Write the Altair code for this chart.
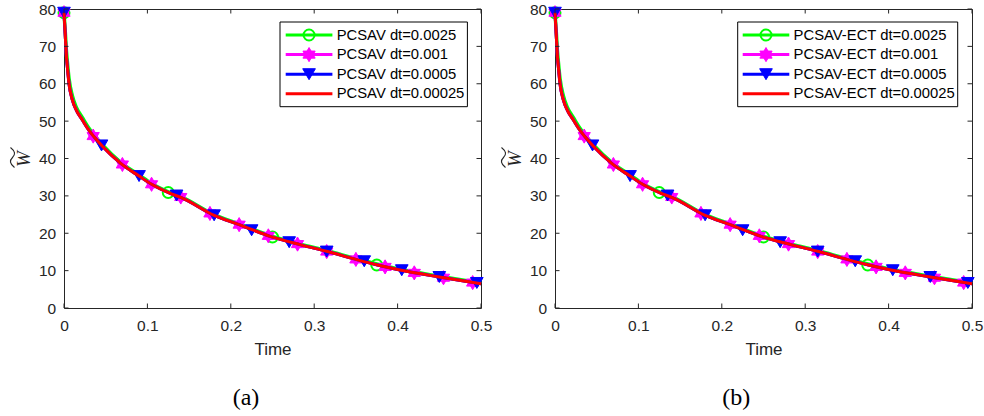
import altair as alt
import pandas as pd

# ---------------- data ----------------
t_curve = [0, 0.0015, 0.003, 0.004, 0.006, 0.010, 0.015, 0.022, 0.030, 0.036, 0.046,
           0.068, 0.09, 0.105, 0.128, 0.14, 0.18, 0.21, 0.248, 0.284, 0.316, 0.35,
           0.376, 0.4, 0.45, 0.5]
w_curve = [79, 73, 67, 64.6, 60, 55.7, 52.8, 50.3, 47.5, 45.8, 43.3,
           38.7, 35.3, 33.1, 30.6, 29.6, 24.8, 22.3, 19.1, 16.9, 15.1, 13.0,
           11.5, 10.3, 8.3, 6.5]
w_green = [79, 74, 68.5, 66, 61.5, 56.8, 53.6, 51.0, 48.1, 46.3, 43.7,
           39.0, 35.6, 33.3, 30.8, 29.8, 25.0, 22.5, 19.3, 17.1, 15.3, 13.2,
           11.7, 10.5, 8.5, 6.7]

t_circle = [0, 0.125, 0.25, 0.375]
w_circle = [79, 30.9, 19.0, 11.5]

t_star = [0, 0.035, 0.07, 0.105, 0.14, 0.175, 0.21, 0.245, 0.28, 0.315, 0.35,
          0.385, 0.42, 0.455, 0.49]
w_star = [79, 46.0, 38.4, 33.1, 29.7, 25.3, 22.3, 19.3, 17.1, 15.1, 13.0,
          11.0, 9.4, 8.1, 6.8]

t_tri = [0, 0.045, 0.09, 0.135, 0.18, 0.225, 0.27, 0.315, 0.36, 0.405, 0.45, 0.495]
w_tri = [79, 43.5, 35.3, 30.1, 24.8, 20.8, 17.6, 15.1, 12.5, 10.1, 8.3, 6.7]

x_ticks = [0, 0.1, 0.2, 0.3, 0.4, 0.5]
y_ticks = [0, 10, 20, 30, 40, 50, 60, 70, 80]

labels_a = ["PCSAV dt=0.0025", "PCSAV dt=0.001", "PCSAV dt=0.0005", "PCSAV dt=0.00025"]
labels_b = ["PCSAV-ECT dt=0.0025", "PCSAV-ECT dt=0.001", "PCSAV-ECT dt=0.0005",
            "PCSAV-ECT dt=0.00025"]
captions = ["(a)", "(b)"]

# ---------------- styling ----------------
W, H = 417, 299
GREEN, MAGENTA, BLUE, RED = "#00FF00", "#FF00FF", "#0000FF", "#FF0000"
AX = "#262626"
SANS = "Liberation Sans"
SERIF = "Liberation Serif"
HEXAGRAM = "M0,-1L0.866,0.5L-0.866,0.5Z M0,1L-0.866,-0.5L0.866,-0.5Z"
TILDE = "M-1,0.2C-0.6,-0.3 -0.3,-0.3 0,0C0.3,0.3 0.6,0.3 1,-0.2"

X = alt.X("t:Q", scale=alt.Scale(domain=[0, 0.5], nice=False, zero=False),
          axis=alt.Axis(values=x_ticks, format="~g", grid=False, domain=False,
                        ticks=False, tickSize=0, labelPadding=10.5, labelFlush=False,
                        labelFont=SANS, labelFontSize=15.5, labelColor=AX,
                        title="Time", titleFont=SANS, titleFontSize=17,
                        titleFontWeight="normal", titleColor=AX,
                        titleY=46.7, titleBaseline="alphabetic"))
Y = alt.Y("w:Q", scale=alt.Scale(domain=[0, 80], nice=False, zero=False),
          axis=alt.Axis(values=y_ticks, grid=False, domain=False, ticks=False,
                        tickSize=0, labelPadding=8.3, labelFlush=False, labelFont=SANS,
                        labelFontSize=15.5, labelColor=AX,
                        title="W", titleFont=SERIF, titleFontSize=19,
                        titleFontStyle="italic", titleFontWeight="normal",
                        titleColor=AX, titleX=-35, titleY=H / 2,
                        titleBaseline="alphabetic"))


def df(t, w):
    return pd.DataFrame({"t": t, "w": w})


one = pd.DataFrame({"a": [0]})


def panel(labels, caption, box_x, line_x, caption_x, anchor=False):
    layers = []
    # series (drawn in the MATLAB order; red on top)
    layers.append(alt.Chart(df(t_curve, w_green)).mark_line(
        color=GREEN, strokeWidth=3.5, interpolate="monotone").encode(x=X, y=Y))
    layers.append(alt.Chart(df(t_circle, w_circle)).mark_point(
        shape="circle", filled=False, color=GREEN, strokeWidth=2, size=121,
        opacity=1).encode(x=X, y=Y))
    layers.append(alt.Chart(df(t_curve, w_curve)).mark_line(
        color=MAGENTA, strokeWidth=3, interpolate="monotone").encode(x=X, y=Y))
    layers.append(alt.Chart(df(t_star, w_star)).mark_point(
        shape=HEXAGRAM, filled=True, color=MAGENTA, stroke=MAGENTA, strokeWidth=1,
        size=200, opacity=1).encode(x=X, y=Y))
    layers.append(alt.Chart(df(t_curve, w_curve)).mark_line(
        color=BLUE, strokeWidth=3, interpolate="monotone").encode(x=X, y=Y))
    layers.append(alt.Chart(df(t_tri, w_tri)).mark_point(
        shape="triangle-down", filled=True, color=BLUE, stroke=BLUE, strokeWidth=1,
        size=160, opacity=1).encode(x=X, y=Y))
    layers.append(alt.Chart(df(t_curve, w_curve)).mark_line(
        color=RED, strokeWidth=3, interpolate="monotone").encode(x=X, y=Y))

    # inward ticks (box on all four sides)
    xt = pd.DataFrame({"t": x_ticks})
    yt = pd.DataFrame({"w": y_ticks})
    layers.append(alt.Chart(xt).mark_rule(color=AX, strokeWidth=1).encode(
        x=X, y=alt.value(H), y2=alt.value(H - 4.5)))
    layers.append(alt.Chart(xt).mark_rule(color=AX, strokeWidth=1).encode(
        x=X, y=alt.value(0), y2=alt.value(4.5)))
    layers.append(alt.Chart(yt).mark_rule(color=AX, strokeWidth=1).encode(
        y=Y, x=alt.value(0), x2=alt.value(4.5)))
    layers.append(alt.Chart(yt).mark_rule(color=AX, strokeWidth=1).encode(
        y=Y, x=alt.value(W - 4.5), x2=alt.value(W)))

    # wide tilde over the (rotated) W of the y title
    layers.append(alt.Chart(one).mark_point(
        shape=TILDE, filled=False, color=AX, strokeWidth=1.1, size=400, angle=270,
        opacity=1).encode(x=alt.value(-51.5), y=alt.value(H / 2 - 1)))

    # legend
    layers.append(alt.Chart(one).mark_rect(fill="white", stroke="black",
                                           strokeWidth=1).encode(
        x=alt.value(box_x[0]), x2=alt.value(box_x[1]),
        y=alt.value(13), y2=alt.value(97.7)))
    colors = [GREEN, MAGENTA, BLUE, RED]
    shapes = ["circle", HEXAGRAM, "triangle-down", None]
    for i, (lab, col, shp) in enumerate(zip(labels, colors, shapes)):
        ry = 26 + 19.6 * i
        layers.append(alt.Chart(one).mark_rule(color=col, strokeWidth=3).encode(
            x=alt.value(line_x[0]), x2=alt.value(line_x[1]), y=alt.value(ry)))
        cx = (line_x[0] + line_x[1]) / 2
        if shp == "circle":
            layers.append(alt.Chart(one).mark_point(
                shape="circle", filled=False, color=col, strokeWidth=2, size=121,
                opacity=1).encode(x=alt.value(cx), y=alt.value(ry)))
        elif shp is not None:
            layers.append(alt.Chart(one).mark_point(
                shape=shp, filled=True, color=col, stroke=col, strokeWidth=1,
                size=200 if shp == HEXAGRAM else 160, opacity=1).encode(
                x=alt.value(cx), y=alt.value(ry)))
        layers.append(alt.Chart(one).mark_text(
            align="left", baseline="middle", font=SANS, fontSize=14.8,
            color="black").encode(x=alt.value(line_x[1] + 4.3), y=alt.value(ry + 0.5),
                                  text=alt.value(lab)))

    # sub-figure caption
    layers.append(alt.Chart(one).mark_text(
        align="center", baseline="alphabetic", font=SERIF, fontSize=24,
        color="black").encode(x=alt.value(caption_x), y=alt.value(395.7),
                              text=alt.value(caption)))
    if anchor:
        layers.append(alt.Chart(one).mark_square(size=1, color="white",
                                                 opacity=1).encode(
            x=alt.value(-62.8), y=alt.value(-7.8)))
    return alt.layer(*layers).properties(width=W, height=H)


pa = panel(labels_a, captions[0], (216, 403.4), (221.7, 268.4), 182, anchor=True)
pb = panel(labels_b, captions[1], (182.7, 402.7), (187.7, 234.3), 181.3)

chart = alt.hconcat(pa, pb, spacing=74, bounds="flush").properties(
    padding=0, background="white"
).configure_view(stroke=AX, strokeWidth=1)

chart.save("out.html", embed_options={"renderer": "svg", "actions": False})
